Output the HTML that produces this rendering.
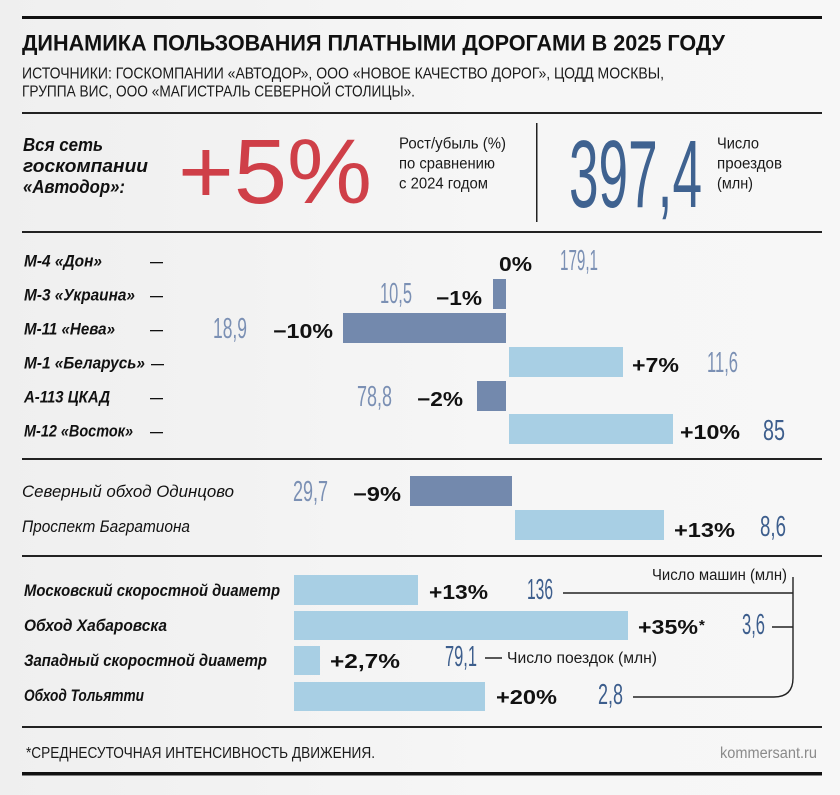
<!DOCTYPE html>
<html><head><meta charset="utf-8"><style>
html,body{margin:0;padding:0;background:#f3f3f3;}
svg{display:block;}
text{font-family:"Liberation Sans",sans-serif;}
.lab{font-weight:bold;font-style:italic;font-size:17px;fill:#111;}
.lab2{font-style:italic;font-size:17px;fill:#111;}
.pct{font-weight:bold;font-size:20px;fill:#111;}
.num{font-size:29px;fill:#7b90b4;}
.numd{font-size:29px;fill:#3d5e8d;}
.cond{font-size:15.5px;fill:#1a1a1a;}
</style></head><body>
<svg width="840" height="795" viewBox="0 0 840 795" xmlns="http://www.w3.org/2000/svg">
<defs>
<linearGradient id="bg" x1="0" y1="0" x2="1" y2="0">
<stop offset="0" stop-color="#efefef"/><stop offset="0.6" stop-color="#f6f6f6"/><stop offset="1" stop-color="#f7f7f7"/>
</linearGradient>
</defs>
<rect x="0" y="0" width="840" height="795" fill="url(#bg)"/>

<!-- header -->
<rect x="22" y="16" width="800" height="3" fill="#111"/>
<text x="22" y="50.5" font-size="22" font-weight="bold" fill="#111" textLength="703" lengthAdjust="spacingAndGlyphs">ДИНАМИКА ПОЛЬЗОВАНИЯ ПЛАТНЫМИ ДОРОГАМИ В 2025 ГОДУ</text>
<text class="cond" x="22" y="78.5" textLength="642" lengthAdjust="spacingAndGlyphs">ИСТОЧНИКИ: ГОСКОМПАНИИ «АВТОДОР», ООО «НОВОЕ КАЧЕСТВО ДОРОГ», ЦОДД МОСКВЫ,</text>
<text class="cond" x="22" y="96.5" textLength="393" lengthAdjust="spacingAndGlyphs">ГРУППА ВИС, ООО «МАГИСТРАЛЬ СЕВЕРНОЙ СТОЛИЦЫ».</text>
<rect x="22" y="112" width="800" height="2" fill="#222"/>

<!-- top stats -->
<text x="23" y="151" font-size="18" font-weight="bold" font-style="italic" fill="#111" textLength="80" lengthAdjust="spacingAndGlyphs">Вся сеть</text>
<text x="23" y="172" font-size="18" font-weight="bold" font-style="italic" fill="#111" textLength="125" lengthAdjust="spacingAndGlyphs">госкомпании</text>
<text x="23" y="193" font-size="18" font-weight="bold" font-style="italic" fill="#111" textLength="102" lengthAdjust="spacingAndGlyphs">«Автодор»:</text>
<text x="178" y="203" font-size="92" fill="#cf3f48" textLength="194" lengthAdjust="spacingAndGlyphs">+5%</text>
<text class="cond" x="399" y="148.5" textLength="107" lengthAdjust="spacingAndGlyphs">Рост/убыль (%)</text>
<text class="cond" x="399" y="168.5" textLength="96" lengthAdjust="spacingAndGlyphs">по сравнению</text>
<text class="cond" x="399" y="188.5" textLength="89" lengthAdjust="spacingAndGlyphs">с 2024 годом</text>
<rect x="536" y="123" width="1.5" height="99" fill="#222"/>
<text x="569" y="207" font-size="96" fill="#3f6290" textLength="133" lengthAdjust="spacingAndGlyphs">397,4</text>
<text class="cond" x="717" y="148.5" textLength="42" lengthAdjust="spacingAndGlyphs">Число</text>
<text class="cond" x="717" y="168.5" textLength="65" lengthAdjust="spacingAndGlyphs">проездов</text>
<text class="cond" x="717" y="188.5" textLength="36" lengthAdjust="spacingAndGlyphs">(млн)</text>
<rect x="22" y="231" width="800" height="2" fill="#222"/>

<!-- section 1 -->
<text class="lab" x="24" y="266.5" textLength="78" lengthAdjust="spacingAndGlyphs">М-4 «Дон»</text>
<text class="lab" x="24" y="300.5" textLength="111" lengthAdjust="spacingAndGlyphs">М-3 «Украина»</text>
<text class="lab" x="24" y="334.5" textLength="91" lengthAdjust="spacingAndGlyphs">М-11 «Нева»</text>
<text class="lab" x="24" y="368.5" textLength="121" lengthAdjust="spacingAndGlyphs">М-1 «Беларусь»</text>
<text class="lab" x="24" y="402.5" textLength="86" lengthAdjust="spacingAndGlyphs">А-113 ЦКАД</text>
<text class="lab" x="24" y="436.5" textLength="109" lengthAdjust="spacingAndGlyphs">М-12 «Восток»</text>
<g fill="#111">
<rect x="150" y="262" width="13" height="1.3"/>
<rect x="150" y="296" width="13" height="1.3"/>
<rect x="150" y="330" width="13" height="1.3"/>
<rect x="151" y="364" width="13" height="1.3"/>
<rect x="150" y="398" width="13" height="1.3"/>
<rect x="150" y="432" width="13" height="1.3"/>
</g>
<rect x="493" y="279" width="13" height="30" fill="#7389ad"/>
<rect x="343" y="313" width="163" height="30" fill="#7389ad"/>
<rect x="509" y="347" width="114" height="30" fill="#a8cfe4"/>
<rect x="477" y="381" width="29" height="30" fill="#7389ad"/>
<rect x="509" y="414" width="164" height="30" fill="#a8cfe4"/>

<text class="pct" x="499" y="271" textLength="33" lengthAdjust="spacingAndGlyphs">0%</text>
<text class="num" x="560" y="270" textLength="38" lengthAdjust="spacingAndGlyphs">179,1</text>
<text class="num" x="380" y="303" textLength="32" lengthAdjust="spacingAndGlyphs">10,5</text>
<text class="pct" x="436" y="305" textLength="46" lengthAdjust="spacingAndGlyphs">−1%</text>
<text class="num" x="213" y="338" textLength="34" lengthAdjust="spacingAndGlyphs">18,9</text>
<text class="pct" x="273" y="338" textLength="60" lengthAdjust="spacingAndGlyphs">−10%</text>
<text class="pct" x="632" y="372" textLength="47" lengthAdjust="spacingAndGlyphs">+7%</text>
<text class="num" x="707" y="372" textLength="31" lengthAdjust="spacingAndGlyphs">11,6</text>
<text class="num" x="357" y="406" textLength="35" lengthAdjust="spacingAndGlyphs">78,8</text>
<text class="pct" x="417" y="406" textLength="46" lengthAdjust="spacingAndGlyphs">−2%</text>
<text class="pct" x="680" y="439" textLength="60" lengthAdjust="spacingAndGlyphs">+10%</text>
<text class="numd" x="763" y="440" textLength="22" lengthAdjust="spacingAndGlyphs">85</text>
<rect x="22" y="458" width="800" height="2" fill="#222"/>

<!-- section 2 -->
<text class="lab2" x="22" y="497" textLength="212" lengthAdjust="spacingAndGlyphs">Северный обход Одинцово</text>
<text class="lab2" x="22" y="532" textLength="168" lengthAdjust="spacingAndGlyphs">Проспект Багратиона</text>
<rect x="410" y="476" width="102" height="30" fill="#7389ad"/>
<rect x="515" y="510" width="149" height="30" fill="#a8cfe4"/>
<text class="num" x="293" y="501" textLength="35" lengthAdjust="spacingAndGlyphs">29,7</text>
<text class="pct" x="353" y="501" textLength="48" lengthAdjust="spacingAndGlyphs">−9%</text>
<text class="pct" x="674" y="537" textLength="61" lengthAdjust="spacingAndGlyphs">+13%</text>
<text class="numd" x="760" y="536" textLength="26" lengthAdjust="spacingAndGlyphs">8,6</text>
<rect x="22" y="555" width="800" height="2" fill="#222"/>

<!-- section 3 -->
<text class="lab" x="24" y="596" textLength="256" lengthAdjust="spacingAndGlyphs">Московский скоростной диаметр</text>
<text class="lab" x="24" y="631" textLength="143" lengthAdjust="spacingAndGlyphs">Обход Хабаровска</text>
<text class="lab" x="24" y="666" textLength="243" lengthAdjust="spacingAndGlyphs">Западный скоростной диаметр</text>
<text class="lab" x="24" y="701" textLength="120" lengthAdjust="spacingAndGlyphs">Обход Тольятти</text>
<rect x="294" y="575" width="124" height="30" fill="#a8cfe4"/>
<rect x="294" y="611" width="334" height="29" fill="#a8cfe4"/>
<rect x="294" y="646" width="26" height="29" fill="#a8cfe4"/>
<rect x="294" y="682" width="191" height="29" fill="#a8cfe4"/>

<text class="pct" x="429" y="599" textLength="59" lengthAdjust="spacingAndGlyphs">+13%</text>
<text class="numd" x="527" y="599" textLength="26" lengthAdjust="spacingAndGlyphs">136</text>
<text class="pct" x="638" y="634" textLength="60" lengthAdjust="spacingAndGlyphs">+35%</text>
<text x="699" y="630" font-size="15" font-weight="bold" fill="#111">*</text>
<text class="numd" x="742" y="634" textLength="23" lengthAdjust="spacingAndGlyphs">3,6</text>
<text class="pct" x="330" y="668" textLength="70" lengthAdjust="spacingAndGlyphs">+2,7%</text>
<text class="numd" x="445" y="666" textLength="32" lengthAdjust="spacingAndGlyphs">79,1</text>
<text class="pct" x="496" y="704" textLength="61" lengthAdjust="spacingAndGlyphs">+20%</text>
<text class="numd" x="598" y="704" textLength="25" lengthAdjust="spacingAndGlyphs">2,8</text>

<text class="cond" x="652" y="580" textLength="135" lengthAdjust="spacingAndGlyphs">Число машин (млн)</text>
<text class="cond" x="507" y="663" textLength="150" lengthAdjust="spacingAndGlyphs">Число поездок (млн)</text>
<g stroke="#222" stroke-width="1.4" fill="none">
<line x1="563" y1="593" x2="793" y2="593"/>
<path d="M793 577 L793 678 Q793 697 774 697 L633 697"/>
<line x1="772" y1="627" x2="793" y2="627"/>
<line x1="485" y1="658" x2="502" y2="658"/>
</g>

<!-- footer -->
<rect x="22" y="726" width="800" height="2" fill="#222"/>
<text class="cond" x="26" y="758" textLength="349" lengthAdjust="spacingAndGlyphs">*СРЕДНЕСУТОЧНАЯ ИНТЕНСИВНОСТЬ ДВИЖЕНИЯ.</text>
<text x="720" y="758" font-size="15.5" fill="#8a8a8a" textLength="97" lengthAdjust="spacingAndGlyphs">kommersant.ru</text>
<rect x="22" y="772" width="800" height="3.5" fill="#111"/>
</svg>
</body></html>
